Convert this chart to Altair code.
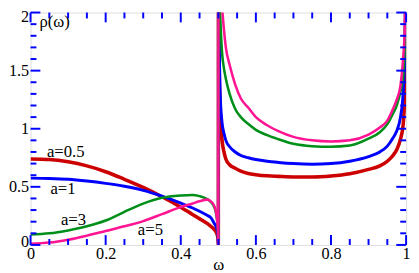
import altair as alt
import pandas as pd

# ---------------- data ----------------
omega = [0, 0.05, 0.1, 0.15, 0.2, 0.25, 0.3, 0.35, 0.4, 0.43, 0.45, 0.47, 0.48, 0.49, 0.495, 0.499, 0.5,
         0.5004, 0.502, 0.505, 0.51, 0.515, 0.52, 0.53, 0.545, 0.56, 0.58, 0.6, 0.63, 0.66, 0.7, 0.75,
         0.8, 0.85, 0.9, 0.93, 0.95, 0.965, 0.975, 0.985, 0.992, 0.997, 1.0]

rho_a05 = [0.74, 0.735, 0.715, 0.68, 0.63, 0.565, 0.495, 0.415, 0.325, 0.265, 0.225, 0.185, 0.16, 0.13, 0.105, 0.06, 0.0,
           2.6, 1.6, 1.15, 0.9, 0.8, 0.74, 0.69, 0.66, 0.635, 0.615, 0.605, 0.595, 0.59, 0.585, 0.585,
           0.593, 0.612, 0.65, 0.68, 0.72, 0.77, 0.82, 0.91, 1.03, 1.35, 2.6]

rho_a1 = [0.575, 0.572, 0.565, 0.55, 0.53, 0.505, 0.47, 0.42, 0.36, 0.32, 0.29, 0.255, 0.235, 0.18, 0.15, 0.09, 0.0,
          2.6, 1.9, 1.3, 1.05, 0.96, 0.9, 0.845, 0.8, 0.77, 0.75, 0.735, 0.72, 0.71, 0.7, 0.695,
          0.7, 0.72, 0.76, 0.8, 0.85, 0.92, 0.98, 1.1, 1.3, 1.7, 2.6]

rho_a3 = [0.09, 0.1, 0.125, 0.16, 0.21, 0.285, 0.355, 0.405, 0.425, 0.43, 0.42, 0.395, 0.37, 0.32, 0.25, 0.13, 0.0,
          2.6, 2.35, 1.98, 1.65, 1.52, 1.43, 1.3, 1.17, 1.1, 1.04, 0.99, 0.945, 0.91, 0.87, 0.85,
          0.845, 0.855, 0.915, 0.97, 1.04, 1.13, 1.2, 1.32, 1.45, 1.75, 2.6]

rho_a5 = [0.01, 0.02, 0.045, 0.08, 0.12, 0.16, 0.205, 0.265, 0.325, 0.355, 0.375, 0.39, 0.375, 0.33, 0.26, 0.13, 0.0,
          2.6, 2.5, 2.3, 2.05, 1.85, 1.7, 1.55, 1.38, 1.26, 1.18, 1.1, 1.03, 0.98, 0.93, 0.9,
          0.89, 0.9, 0.95, 1.01, 1.07, 1.17, 1.25, 1.37, 1.6, 1.9, 2.6]

series_names = ["a=0.5", "a=1", "a=3", "a=5"]
series_values = [rho_a05, rho_a1, rho_a3, rho_a5]
series_colors = ["#cc0000", "#0000ff", "#00901a", "#ff1493"]
series_widths = [3.6, 3.0, 2.6, 2.6]

# curve label anchors (left / baseline), in data units
label_omega = [0.0435, 0.053, 0.081, 0.2857]
label_rho = [0.755, 0.44, 0.17, 0.083]

x_major = [0, 0.2, 0.4, 0.6, 0.8, 1]
x_minor = [0.05, 0.1, 0.15, 0.25, 0.3, 0.35, 0.45, 0.5, 0.55, 0.65, 0.7, 0.75, 0.85, 0.9, 0.95]
y_major = [0, 0.5, 1, 1.5, 2]
y_minor = [0.1, 0.2, 0.3, 0.4, 0.6, 0.7, 0.8, 0.9, 1.1, 1.2, 1.3, 1.4, 1.6, 1.7, 1.8, 1.9]

x_title = "ω"
y_title = "ρ(ω)"

# ---------------- style ----------------
W, H = 383, 237
PAD_L = 23
AX = "#0000ff"
FONT = "Liberation Serif"
FS = 17
LFS = 16.5
MAJ, MIN = 10, 6

x_scale = alt.Scale(domain=[0, 1], nice=False, zero=False)
y_scale = alt.Scale(domain=[0, 2], nice=False, zero=False)

x_axis = alt.Axis(values=x_major, format="~g", ticks=False, domain=False, grid=False,
                  labelFont=FONT, labelFontSize=LFS, labelColor="black", labelPadding=1,
                  labelFlush=False, labelOverlap=False,
                  title=x_title, titleFont=FONT, titleFontSize=FS, titleFontWeight="normal",
                  titleColor="black", titleY=25.5, titleBaseline="alphabetic")
y_axis = alt.Axis(values=y_major, format="~g", ticks=False, domain=False, grid=False,
                  labelFont=FONT, labelFontSize=LFS, labelColor="black", labelPadding=2,
                  labelOverlap=False, title=None,
                  labelOffset=alt.expr("datum.value == 2 ? 4 : (datum.value == 0 ? -3 : 0)"))

layers = []
for name, vals, col, sw in zip(series_names, series_values, series_colors, series_widths):
    df = pd.DataFrame({"omega": omega, "rho": vals, "i": list(range(len(omega)))})
    layers.append(
        alt.Chart(df).mark_line(color=col, strokeWidth=sw, clip=True, interpolate="monotone").encode(
            x=alt.X("omega:Q", scale=x_scale, axis=x_axis),
            y=alt.Y("rho:Q", scale=y_scale, axis=y_axis),
            order="i:Q",
        )
    )

lab_df = pd.DataFrame({"omega": label_omega, "rho": label_rho, "t": series_names})
labels = alt.Chart(lab_df).mark_text(font=FONT, fontSize=FS, color="black", align="left",
                                     baseline="alphabetic").encode(
    x=alt.X("omega:Q", scale=x_scale, axis=x_axis),
    y=alt.Y("rho:Q", scale=y_scale, axis=y_axis),
    text="t:N",
)

ytitle = alt.Chart(pd.DataFrame({"t": [y_title]})).mark_text(
    font=FONT, fontSize=FS, color="black", align="left", baseline="alphabetic").encode(
    x=alt.value(9), y=alt.value(15), text="t:N")


def xticks(vals, length):
    d = pd.DataFrame({"omega": vals})
    bottom = alt.Chart(d).mark_rule(color=AX, strokeWidth=2).encode(
        x=alt.X("omega:Q", scale=x_scale, axis=x_axis), y=alt.value(H), y2=alt.value(H - length))
    top = alt.Chart(d).mark_rule(color=AX, strokeWidth=2).encode(
        x=alt.X("omega:Q", scale=x_scale, axis=x_axis), y=alt.value(0), y2=alt.value(length))
    return [bottom, top]


def yticks(vals, length):
    d = pd.DataFrame({"rho": vals})
    left = alt.Chart(d).mark_rule(color=AX, strokeWidth=2).encode(
        y=alt.Y("rho:Q", scale=y_scale, axis=y_axis), x=alt.value(0), x2=alt.value(length))
    right = alt.Chart(d).mark_rule(color=AX, strokeWidth=2).encode(
        y=alt.Y("rho:Q", scale=y_scale, axis=y_axis), x=alt.value(W), x2=alt.value(W - length))
    return [left, right]


ticks = xticks(x_major, MAJ) + xticks(x_minor, MIN) + yticks(y_major, MAJ) + yticks(y_minor, MIN)

chart = alt.layer(*layers, *ticks, labels, ytitle).properties(
    width=W, height=H,
    autosize=alt.AutoSizeParams(type="none"),
    padding={"left": PAD_L, "top": 2, "right": 5, "bottom": 26},
).configure_view(stroke=AX, strokeWidth=2.5).configure(background="white")

chart.save("out.html", embed_options={"renderer": "svg", "actions": False})
